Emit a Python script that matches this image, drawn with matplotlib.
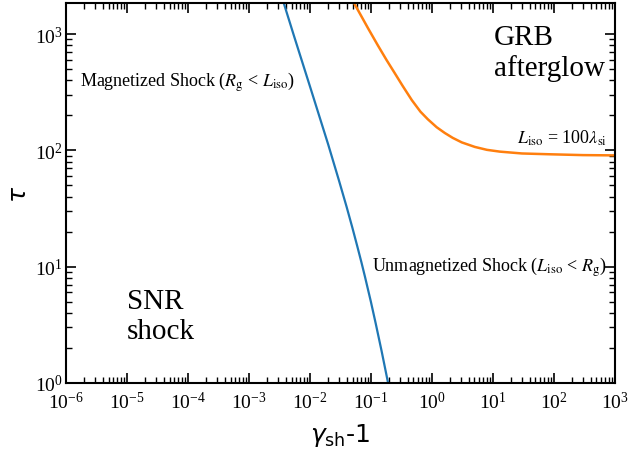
import numpy as np
import matplotlib
matplotlib.use("Agg")
import matplotlib.pyplot as plt
from matplotlib.ticker import LogLocator, FuncFormatter, NullFormatter

plt.rcParams['font.family'] = ['Liberation Serif', 'DejaVu Serif']
plt.rcParams['mathtext.fontset'] = 'stix'

# curves: gamma_sh - 1 vs tau
gam_mag = [0.0035, 0.00375, 0.0055, 0.0104, 0.02, 0.03, 0.04, 0.05, 0.06,
           0.07, 0.08, 0.1, 0.12, 0.15, 0.19, 0.2]
tau_mag = [2000, 1828, 960, 334, 112, 55, 32.7, 21.4, 14.9,
           10.9, 8.2, 5.0, 3.25, 1.88, 1.02, 0.9]

gam_grb = [0.052, 0.0547, 0.07, 0.09, 0.13, 0.18, 0.247, 0.33, 0.47, 0.65,
           0.859, 1.2, 1.63, 2.2, 3.10, 5.07, 8.0, 13.0, 30.0, 86.0, 300.0, 1000.0]
tau_grb = [1890, 1791, 1420, 1120, 800, 600, 460, 360, 270, 215,
           185, 158, 141, 128, 117, 107, 101, 97.5, 94, 92.5, 91, 90.5]

xlim = (1e-6, 1e3)
ylim = (1, 1845)

fig = plt.figure(figsize=(6.28, 4.56), dpi=100)
ax = fig.add_axes([0.105, 0.158, 0.874, 0.833])

ax.plot(gam_mag, tau_mag, color='#1f77b4', lw=1.6)
ax.plot(gam_grb, tau_grb, color='#ff7f0e', lw=1.8)

ax.set_xscale('log')
ax.set_yscale('log')
ax.set_xlim(*xlim)
ax.set_ylim(*ylim)

fmt = FuncFormatter(lambda v, p: r'$\mathregular{10^{%d}}$' % round(np.log10(v)))
ax.xaxis.set_major_locator(LogLocator(base=10, numticks=20))
ax.xaxis.set_minor_locator(LogLocator(base=10, subs=np.arange(2, 10), numticks=20))
ax.yaxis.set_major_locator(LogLocator(base=10, numticks=20))
ax.yaxis.set_minor_locator(LogLocator(base=10, subs=np.arange(2, 10), numticks=20))
ax.xaxis.set_major_formatter(fmt)
ax.yaxis.set_major_formatter(fmt)
ax.xaxis.set_minor_formatter(NullFormatter())
ax.yaxis.set_minor_formatter(NullFormatter())

ax.tick_params(which='both', direction='in', top=True, right=True, labelsize=14)
ax.tick_params(which='major', length=7, width=1.2)
ax.tick_params(axis='x', which='major', pad=6)
ax.tick_params(axis='y', which='major', pad=2)
ax.tick_params(which='minor', length=4, width=1.0)
for s in ax.spines.values():
    s.set_linewidth(1.5)

ax.set_xlabel(r'$\gamma_{\rm sh}$-1', fontsize=18, family='DejaVu Sans',
              math_fontfamily='dejavusans', labelpad=6)
ax.set_ylabel(r'$\tau$', fontsize=18, family='DejaVu Sans',
              math_fontfamily='dejavusans', labelpad=3)

ax.text(1.7e-6, 391, r'Magnetized Shock ($R_{\rm g}$ < $L_{\rm iso}$)',
        fontsize=13, ha='left', va='center')
ax.text(740, 10, r'Unmagnetized Shock ($L_{\rm iso}$ < $R_{\rm g}$)',
        fontsize=13, ha='right', va='center')
ax.text(740, 129, r'$L_{\rm iso}$ = 100$\lambda_{\rm si}$',
        fontsize=13, ha='right', va='center')
ax.text(10.4, 694, 'GRB\nafterglow', fontsize=21, ha='left', va='center',
        multialignment='left')
ax.text(1e-5, 3.8, 'SNR\nshock', fontsize=21, ha='left', va='center',
        multialignment='left')

fig.savefig('out.png', dpi=100)
